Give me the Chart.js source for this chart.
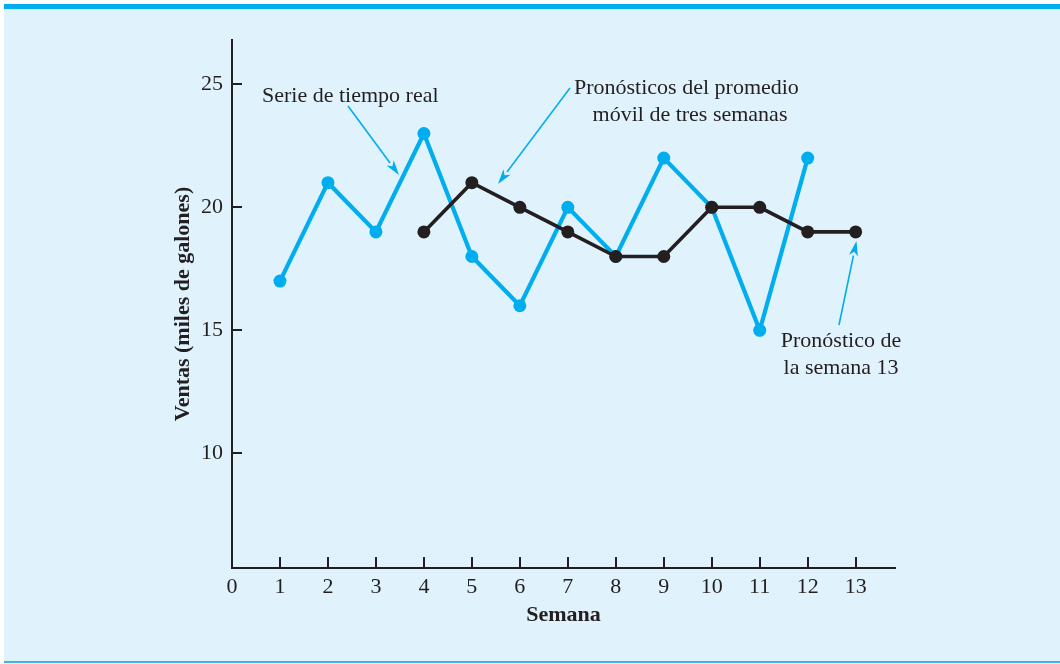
<!DOCTYPE html>
<html>
<head>
<meta charset="utf-8">
<script src="https://cdn.jsdelivr.net/npm/chart.js@4.4.0/dist/chart.umd.min.js"></script>
<style>
  html, body { margin: 0; padding: 0; background: #ffffff; }
  body { width: 1060px; height: 664px; position: relative; overflow: hidden; }
  #panel { position: absolute; left: 4px; top: 4px; width: 1056px; height: 652px;
           background: #e0f2fc; border-top: 5px solid #00aeef; border-bottom: 2px solid #40b2e3; }
  #wrap { position: absolute; left: 0; top: 0; width: 1060px; height: 664px; }
</style>
</head>
<body>
<div id="panel"></div>
<div id="wrap"><canvas id="c" width="1060" height="664"></canvas></div>
<script>
// ---- data ----
const weeks = [1, 2, 3, 4, 5, 6, 7, 8, 9, 10, 11, 12];
const sales = [17, 21, 19, 23, 18, 16, 20, 18, 22, 20, 15, 22];
const forecastWeeks = [4, 5, 6, 7, 8, 9, 10, 11, 12, 13];
const forecast = [19, 21, 20, 19, 18, 18, 20, 20, 19, 19];
const xTickValues = [0, 1, 2, 3, 4, 5, 6, 7, 8, 9, 10, 11, 12, 13];
const yTickValues = [10, 15, 20, 25];
const xTitle = 'Semana';
const yTitle = 'Ventas (miles de galones)';

const BLUE = '#00adee';
const DARK = '#231f20';
const FONT = "'Liberation Serif', 'Times New Roman', serif";

Chart.defaults.font.family = FONT;
Chart.defaults.color = DARK;

const annotations = {
  id: 'annotations',
  afterDraw(chart) {
    const ctx = chart.ctx;
    ctx.save();
    ctx.fillStyle = DARK;
    ctx.font = "22px " + FONT;
    ctx.textBaseline = 'alphabetic';
    ctx.textAlign = 'left';
    ctx.fillText('Serie de tiempo real', 262, 102);
    ctx.fillText('Pronósticos del promedio', 574, 94);
    ctx.textAlign = 'center';
    ctx.fillText('móvil de tres semanas', 690, 121);
    ctx.fillText('Pronóstico de', 841, 347);
    ctx.fillText('la semana 13', 841, 374);

    function arrow(x1, y1, x2, y2) {
      const ang = Math.atan2(y2 - y1, x2 - x1);
      const L = 15, W = 4.5;
      const bx = x2 - L * Math.cos(ang), by = y2 - L * Math.sin(ang);
      ctx.strokeStyle = BLUE;
      ctx.fillStyle = BLUE;
      ctx.lineWidth = 1.6;
      ctx.beginPath();
      ctx.moveTo(x1, y1);
      ctx.lineTo(bx, by);
      ctx.stroke();
      ctx.beginPath();
      ctx.moveTo(x2, y2);
      ctx.lineTo(bx + W * Math.sin(ang), by - W * Math.cos(ang));
      ctx.lineTo(bx + 4 * Math.cos(ang), by + 4 * Math.sin(ang));
      ctx.lineTo(bx - W * Math.sin(ang), by + W * Math.cos(ang));
      ctx.closePath();
      ctx.fill();
    }
    arrow(348, 106, 399, 175);
    arrow(570, 88, 498, 184);
    arrow(839, 325, 856.5, 241);
    ctx.restore();
  }
};

const innerTicks = {
  id: 'innerTicks',
  afterDatasetsDraw(chart) {
    const ctx = chart.ctx;
    const xs = chart.scales.x, ys = chart.scales.y;
    const a = chart.chartArea;
    ctx.save();
    ctx.strokeStyle = DARK;
    ctx.lineWidth = 2;
    ctx.beginPath();
    xTickValues.forEach(v => {
      if (v === 0) return;
      const px = Math.round(xs.getPixelForValue(v));
      ctx.moveTo(px, a.bottom);
      ctx.lineTo(px, a.bottom - 11);
    });
    yTickValues.forEach(v => {
      const py = Math.round(ys.getPixelForValue(v));
      ctx.moveTo(a.left, py);
      ctx.lineTo(a.left + 10, py);
    });
    ctx.stroke();
    ctx.restore();
  }
};

new Chart(document.getElementById('c'), {
  type: 'line',
  data: {
    datasets: [
      {
        label: 'Pronósticos del promedio móvil de tres semanas',
        data: forecastWeeks.map((w, i) => ({ x: w, y: forecast[i] })),
        borderColor: DARK,
        backgroundColor: DARK,
        borderWidth: 3.6,
        pointRadius: 6.5,
        pointBorderWidth: 0,
        pointBackgroundColor: DARK,
        tension: 0
      },
      {
        label: 'Serie de tiempo real',
        data: weeks.map((w, i) => ({ x: w, y: sales[i] })),
        borderColor: BLUE,
        backgroundColor: BLUE,
        borderWidth: 4.2,
        pointRadius: 6.5,
        pointBorderWidth: 0,
        pointBackgroundColor: BLUE,
        tension: 0
      }
    ]
  },
  options: {
    responsive: false,
    animation: false,
    events: [],
    layout: { padding: { left: 0, top: 40, right: 165, bottom: 0 } },
    plugins: { legend: { display: false }, tooltip: { enabled: false } },
    scales: {
      x: {
        type: 'linear',
        min: 0,
        max: 13.82,
        afterBuildTicks(scale) { scale.ticks = xTickValues.map(v => ({ value: v })); },
        afterFit(scale) { scale.height = 96; },
        grid: { display: false, drawTicks: false },
        border: { display: true, color: DARK, width: 2 },
        ticks: { font: { size: 22 }, color: DARK, padding: 6, maxRotation: 0, autoSkip: false },
        title: { display: true, text: xTitle, color: DARK,
                 font: { size: 22, weight: 'bold' }, padding: { top: 0, bottom: 35 } }
      },
      y: {
        type: 'linear',
        min: 5.34,
        max: 26.8,
        afterBuildTicks(scale) { scale.ticks = yTickValues.map(v => ({ value: v })); },
        afterFit(scale) { scale.width = 232; },
        grid: { display: false, drawTicks: false },
        border: { display: true, color: DARK, width: 2 },
        ticks: { font: { size: 22 }, color: DARK, padding: 9, autoSkip: false },
        title: { display: true, text: yTitle, color: DARK,
                 font: { size: 22, weight: 'bold' }, padding: { top: 170, bottom: 0 } }
      }
    }
  },
  plugins: [innerTicks, annotations]
});
</script>
</body>
</html>
